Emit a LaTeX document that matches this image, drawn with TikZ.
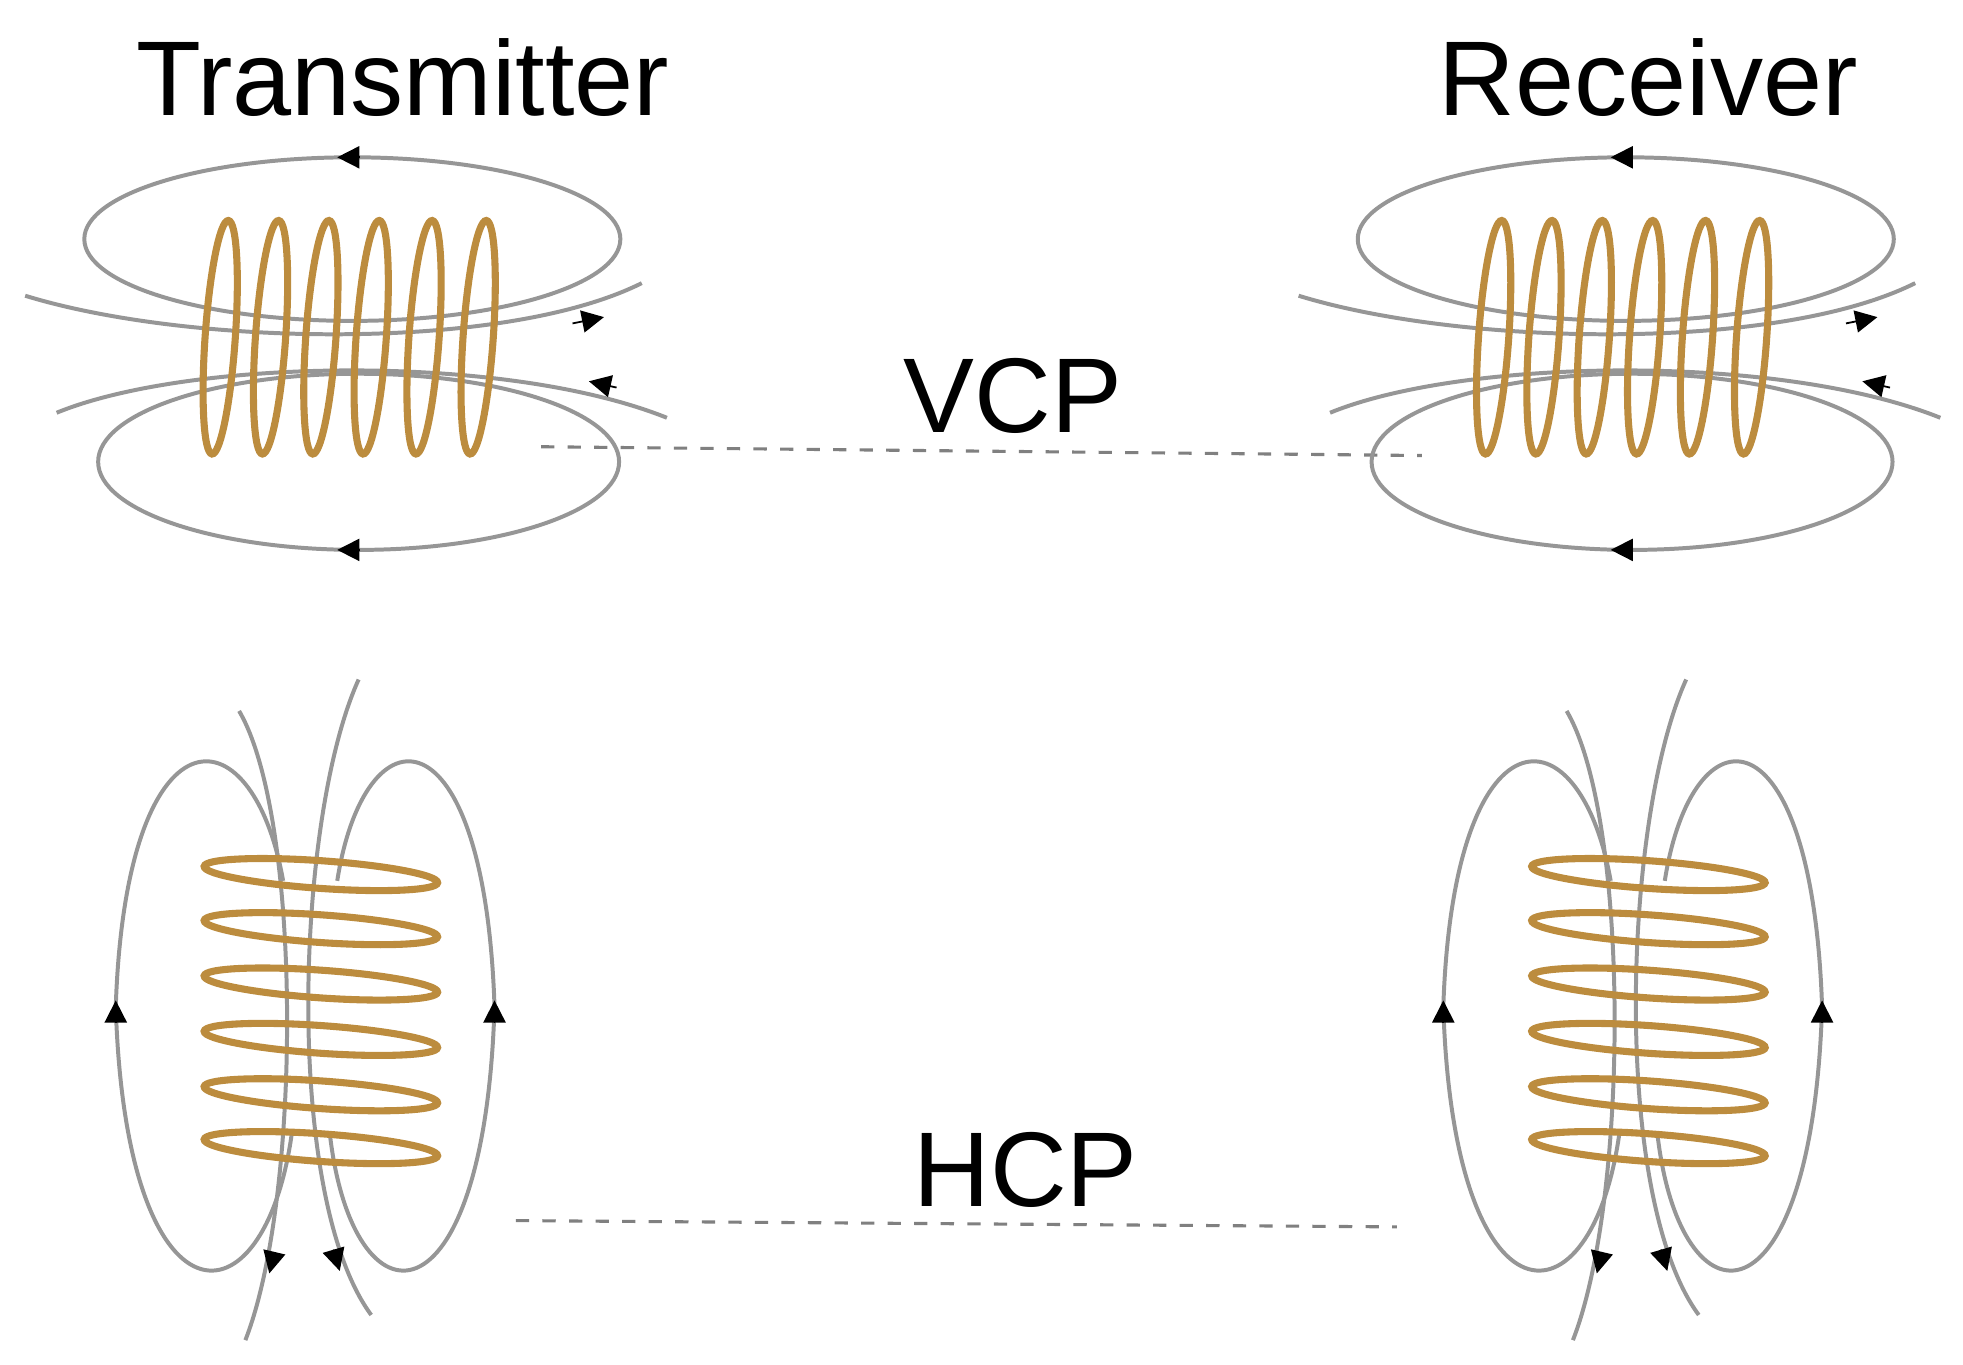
\documentclass[tikz,border=0pt]{standalone}
\usepackage{fontspec}
\setmainfont{Liberation Sans}
\usetikzlibrary{arrows.meta}
\definecolor{gold}{RGB}{188,140,62}
\definecolor{fld}{RGB}{150,150,150}
\tikzset{
 field/.style={draw=fld,line width=0.9pt},
 coil/.style={draw=gold,line width=1.6pt},
 arr/.style={-{Triangle[length=5pt,width=5pt]},black,line width=0.4pt},
 lbl/.style={font=\fontsize{24}{28}\selectfont,inner sep=0pt},
 dline/.style={draw=gray,dashed,line width=0.7pt}
}
\begin{document}
\begin{tikzpicture}[x=0.01cm,y=-0.01cm]
\useasboundingbox (0,0) rectangle (1560,1084);
\node[lbl] (tx) at (320,62) {Transmitter};
\node[lbl] (rx) at (1310,62) {Receiver};
\node[lbl] (vcp) at (805,315) {VCP};
\node[lbl] (hcp) at (815,930) {HCP};
\coordinate (v1) at (430,355); \coordinate (v2) at (1130,362);
\coordinate (h1) at (410,970); \coordinate (h2) at (1110,975);
\draw[dline] (v1) -- (v2);
\draw[dline] (h1) -- (h2);
% VCP coils
\foreach \dx/\dy in {0/0,1012/0}{
\begin{scope}[shift={(\dx,\dy)}]
 \draw[field] (280,190) ellipse [x radius=213,y radius=65];
 \draw[field] (285,367) ellipse [x radius=207,y radius=70];
 \draw[field] (20,235) .. controls (150,275) and (400,280) .. (510,225);
 \draw[field] (45,328) .. controls (150,285) and (400,280) .. (530,332);
 \foreach \cx in {175,215,255,295,337,380}
   \draw[coil,rotate around={-4:(\cx,268)}] (\cx,268) ellipse [x radius=12,y radius=93];
 \draw[arr] (285,125) -- (268,125);
 \draw[arr] (285,437) -- (268,437);
 \draw[arr] (455,257) -- (480,252);
 \draw[arr] (490,308) -- (468,303);
\end{scope}}
% HCP coils
\foreach \dx in {0,1055}{
\begin{scope}[shift={(\dx,0)}]
 \draw[field] (225,700) .. controls (200,560) and (100,560) .. (92,800) .. controls (100,1060) and (210,1060) .. (232,900);
 \draw[field] (268,700) .. controls (290,560) and (385,560) .. (393,800) .. controls (385,1060) and (280,1060) .. (262,900);
 \draw[field] (190,565) .. controls (240,650) and (240,950) .. (195,1065);
 \draw[field] (285,540) .. controls (235,650) and (225,950) .. (295,1045);
 \foreach \cy in {695,738,782,826,870,912}
   \draw[coil,rotate around={-4:(255,\cy)}] (255,\cy) ellipse [x radius=93,y radius=11];
 \draw[arr] (92,812) -- (92,795);
 \draw[arr] (393,812) -- (393,795);
 \draw[arr] (218,995) -- (214,1012);
 \draw[arr] (265,993) -- (270,1010);
\end{scope}}
\end{tikzpicture}
\end{document}
